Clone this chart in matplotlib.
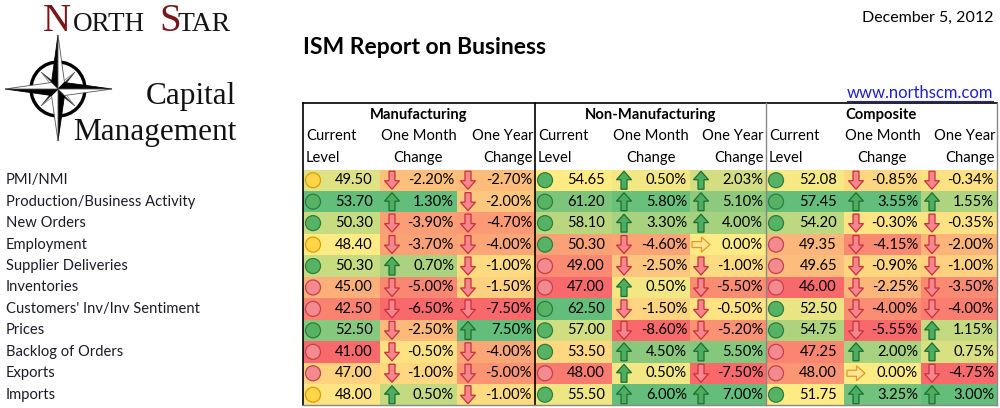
import matplotlib
matplotlib.use("Agg")
import matplotlib.pyplot as plt
from matplotlib.patches import Polygon, Circle, Rectangle
import numpy as np

plt.rcParams['font.family'] = ['Lato', 'DejaVu Sans']

rows = ["PMI/NMI", "Production/Business Activity", "New Orders", "Employment",
        "Supplier Deliveries", "Inventories", "Customers' Inv/Inv Sentiment",
        "Prices", "Backlog of Orders", "Exports", "Imports"]

groups = ["Manufacturing", "Non-Manufacturing", "Composite"]

mfg_level = [49.50, 53.70, 50.30, 48.40, 50.30, 45.00, 42.50, 52.50, 41.00, 47.00, 48.00]
mfg_month = [-2.20, 1.30, -3.90, -3.70, 0.70, -5.00, -6.50, -2.50, -0.50, -1.00, 0.50]
mfg_year = [-2.70, -2.00, -4.70, -4.00, -1.00, -1.50, -7.50, 7.50, -4.00, -5.00, -1.00]
mfg_light = ["y", "g", "g", "y", "g", "r", "r", "g", "r", "r", "y"]

nonmfg_level = [54.65, 61.20, 58.10, 50.30, 49.00, 47.00, 62.50, 57.00, 53.50, 48.00, 55.50]
nonmfg_month = [0.50, 5.80, 3.30, -4.60, -2.50, 0.50, -1.50, -8.60, 4.50, 0.50, 6.00]
nonmfg_year = [2.03, 5.10, 4.00, 0.00, -1.00, -5.50, -0.50, -5.20, 5.50, -7.50, 7.00]
nonmfg_light = ["g", "g", "g", "g", "r", "r", "g", "g", "g", "r", "g"]

comp_level = [52.08, 57.45, 54.20, 49.35, 49.65, 46.00, 52.50, 54.75, 47.25, 48.00, 51.75]
comp_month = [-0.85, 3.55, -0.30, -4.15, -0.90, -2.25, -4.00, -5.55, 2.00, 0.00, 3.25]
comp_year = [-0.34, 1.55, -0.35, -2.00, -1.00, -3.50, -4.00, 1.15, 0.75, -4.75, 3.00]
comp_light = ["g", "g", "g", "r", "r", "r", "g", "g", "r", "r", "g"]

levels = [mfg_level, nonmfg_level, comp_level]
months = [mfg_month, nonmfg_month, comp_month]
years = [mfg_year, nonmfg_year, comp_year]
lights = [mfg_light, nonmfg_light, comp_light]

RED = np.array([0xF8, 0x69, 0x6B]) / 255
YEL = np.array([0xFF, 0xEB, 0x84]) / 255
GRN = np.array([0x63, 0xBE, 0x7B]) / 255


def scale_color(v, vals, mid):
    lo, hi = min(vals), max(vals)
    if v <= mid:
        t = 0 if mid == lo else (v - lo) / (mid - lo)
        return RED + t * (YEL - RED)
    t = 0 if hi == mid else (v - mid) / (hi - mid)
    return YEL + t * (GRN - YEL)


light_cols = {"g": ("#56B365", "#2E7D3C"), "y": ("#FFD54A", "#E29B00"),
              "r": ("#F28A90", "#C4424B")}


def arrow(ax, cx, cy, v):
    pts = np.array([(0, -9), (7.5, -0.5), (3, -0.5), (3, 9),
                    (-3, 9), (-3, -0.5), (-7.5, -0.5)])
    if v > 0:
        fc, ec = "#4DAE62", "#1E6E30"
    elif v < 0:
        pts[:, 1] *= -1
        fc, ec = "#F4878E", "#C8303B"
    else:
        pts = np.column_stack([-pts[:, 1], pts[:, 0]])
        fc, ec = "#FFE49A", "#E8971C"
    ax.add_patch(Polygon(pts + [cx, cy], closed=True, fc=fc, ec=ec, lw=0.9, zorder=4))


fig = plt.figure(figsize=(10, 4.08), dpi=100)
ax = fig.add_axes([0, 0, 1, 1])
ax.set_xlim(0, 1000)
ax.set_ylim(408, 0)
ax.axis("off")

# logo text
red = "#7A1519"
serif = "Liberation Serif"
ax.text(43, 31, "N", fontsize=28, family=serif, color=red, va="baseline")
ax.text(73, 31, "ORTH", fontsize=19.5, family=serif, color="#151515", va="baseline")
ax.text(159, 31, "S", fontsize=28, family=serif, color=red, va="baseline")
ax.text(178, 31, "TAR", fontsize=20, family=serif, color="#151515", va="baseline")
ax.text(236, 104, "Capital", fontsize=22.5, family=serif, color="#111",
        ha="right", va="baseline")
ax.text(236, 140, "Management", fontsize=22.5, family=serif, color="#111",
        ha="right", va="baseline")

# compass
cx, cy = 58, 89
ax.add_patch(Circle((cx, cy), 27, fill=False, ec="black", lw=2.4, zorder=2))
tips = [(0, -54), (0, 52), (-53, 0), (54, 0)]
w = 6.5
for dx, dy in tips:
    tip = (cx + dx, cy + dy)
    if dx:
        ux = np.sign(dx)
        side1 = (cx + ux * w, cy - w * ux)
        side2 = (cx + ux * w, cy + w * ux)
    else:
        uy = np.sign(dy)
        side1 = (cx + w * uy, cy + uy * w)
        side2 = (cx - w * uy, cy + uy * w)
    ax.add_patch(Polygon([tip, (cx, cy), side1], fc="black", ec="black", lw=0.6, zorder=3))
    ax.add_patch(Polygon([tip, (cx, cy), side2], fc="white", ec="#555", lw=0.6, zorder=3))
for ang in [45, 135, 225, 315]:
    a = np.radians(ang)
    tip = (cx + 24 * np.cos(a), cy + 24 * np.sin(a))
    p1 = (cx + 3 * np.cos(a + 1.2), cy + 3 * np.sin(a + 1.2))
    p2 = (cx + 3 * np.cos(a - 1.2), cy + 3 * np.sin(a - 1.2))
    ax.add_patch(Polygon([tip, (cx, cy), p1], fc="#222", ec="#222", lw=0.4, zorder=2.5))
    ax.add_patch(Polygon([tip, (cx, cy), p2], fc="white", ec="#666", lw=0.4, zorder=2.5))

# titles
ax.text(303, 47, "ISM Report on Business", fontsize=16.5, fontweight="bold", va="center")
ax.text(993, 18, "December 5, 2012", fontsize=11.5, ha="right", va="center")
ax.text(993, 93, "www.northscm.com", fontsize=12, ha="right", va="center", color="#2020C8")
ax.plot([847, 993], [101, 101], color="#2020C8", lw=0.8)

# table geometry
bounds = [[303, 380, 457, 535], [535, 612, 690, 766], [766, 844, 921, 997]]
top, rh = 169.5, 21.45
hdr_top = 103
fs = 10.6

for i, name in enumerate(rows):
    ax.text(6, top + rh * (i + 0.5), name, fontsize=fs, va="center", color="#1b1b2b")

for g in range(3):
    b = bounds[g]
    ax.text((b[0] + b[3]) / 2, 115, groups[g], fontsize=fs, fontweight="bold",
            ha="center", va="center")
    ax.text(b[0] + 3, 136, "Current", fontsize=fs, va="center")
    ax.text(b[0] + 3, 158, "Level", fontsize=fs, va="center")
    ax.text((b[1] + b[2]) / 2, 136, "One Month", fontsize=fs, ha="center", va="center")
    ax.text((b[1] + b[2]) / 2, 158, "Change", fontsize=fs, ha="center", va="center")
    ax.text(b[3] - 2, 136, "One Year", fontsize=fs, ha="right", va="center")
    ax.text(b[3] - 2, 158, "Change", fontsize=fs, ha="right", va="center")

    lv, mo, yr, lt = levels[g], months[g], years[g], lights[g]
    med = float(np.median(lv))
    for i in range(len(rows)):
        y0 = top + rh * i
        yc = y0 + rh / 2
        # level
        ax.add_patch(Rectangle((b[0], y0), b[1] - b[0], rh, fc=scale_color(lv[i], lv, med),
                               ec="none", zorder=1))
        fc, ec = light_cols[lt[i]]
        ax.add_patch(Circle((b[0] + 10, yc), 7.5, fc=fc, ec=ec, lw=0.9, zorder=4))
        ax.text(b[1] - 7, yc, f"{lv[i]:.2f}", fontsize=fs, ha="right", va="center", zorder=5)
        # month
        ax.add_patch(Rectangle((b[1], y0), b[2] - b[1], rh, fc=scale_color(mo[i], mo, 0.0),
                               ec="none", zorder=1))
        arrow(ax, b[1] + 12, yc, mo[i])
        ax.text(b[2] - 3, yc, f"{mo[i]:.2f}%", fontsize=fs, ha="right", va="center", zorder=5)
        # year
        ax.add_patch(Rectangle((b[2], y0), b[3] - b[2], rh, fc=scale_color(yr[i], yr, 0.0),
                               ec="none", zorder=1))
        arrow(ax, b[2] + 11, yc, yr[i])
        ax.text(b[3] - 3, yc, f"{yr[i]:.2f}%", fontsize=fs, ha="right", va="center", zorder=5)

bottom = top + rh * len(rows)
ax.plot([303, 997], [hdr_top, hdr_top], color="black", lw=1.2, zorder=6)
ax.plot([303, 303], [hdr_top, bottom], color="black", lw=1.2, zorder=6)
ax.plot([535, 535], [hdr_top, bottom], color="black", lw=1.2, zorder=6)
ax.plot([766, 766], [hdr_top, bottom], color="#888", lw=1.0, zorder=6)
ax.plot([997, 997], [hdr_top, bottom], color="#888", lw=1.0, zorder=6)
ax.plot([303, 997], [bottom, bottom], color="#888", lw=1.0, zorder=6)

fig.savefig("out.png", dpi=100)
